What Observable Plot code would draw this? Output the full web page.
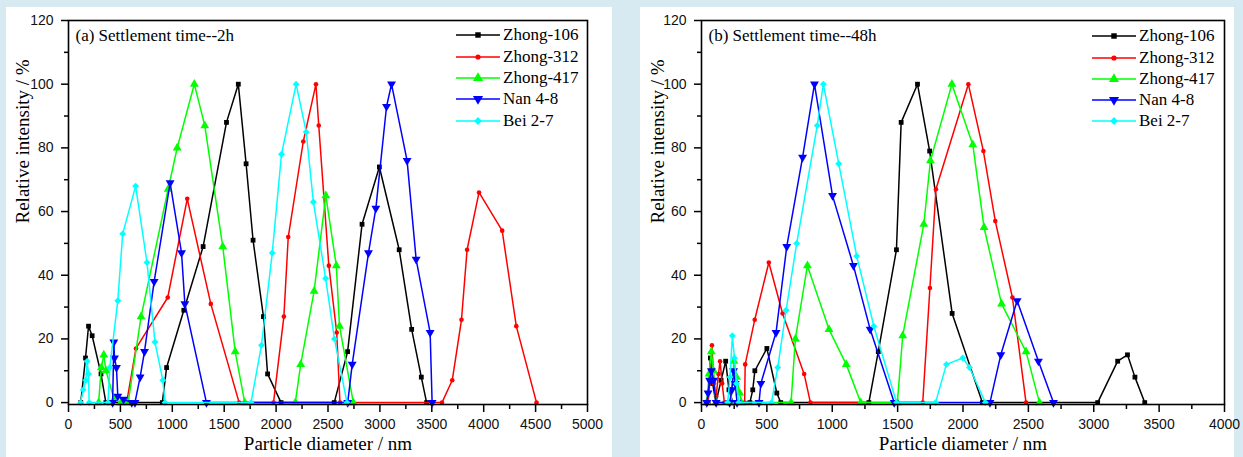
<!DOCTYPE html>
<html><head><meta charset="utf-8">
<script src="https://cdn.jsdelivr.net/npm/d3@7"></script>
<script src="https://cdn.jsdelivr.net/npm/@observablehq/plot@0.6"></script>
<style>
html,body{margin:0;padding:0;background:#d8eaf1;width:1243px;height:457px;overflow:hidden;position:relative}
.panel{position:absolute;background:#fff}
.lrow{position:absolute;height:20px;display:flex;align-items:center;font-family:"Liberation Serif","Times New Roman",serif;font-size:17px;color:#000;white-space:nowrap}
.lrow svg{display:block;margin-right:3px}
</style></head><body>
<div id="pa" class="panel" style="left:6px;top:7px;width:606px;height:450px"></div>
<div id="pb" class="panel" style="left:640px;top:7px;width:594px;height:450px"></div>
<script>
// ---------- data ----------
const seriesNames = ["Zhong-106", "Zhong-312", "Zhong-417", "Nan 4-8", "Bei 2-7"];

const panelTitles = ["(a) Settlement time--2h", "(b) Settlement time--48h"];
const xLabel = "Particle diameter / nm";
const yLabel = "Relative intensity / %";
const xTicksA = [0, 500, 1000, 1500, 2000, 2500, 3000, 3500, 4000, 4500, 5000];
const xTicksB = [0, 500, 1000, 1500, 2000, 2500, 3000, 3500, 4000];
const yTicks = [0, 20, 40, 60, 80, 100, 120];

// Panel (a): settlement time 2h  [diameter nm, relative intensity %]
const a_zhong106 = [[118,0],[164,14],[193,24],[228,21],[313,9],[360,0],[904,0],[945,11],[1111,29],[1297,49],[1522,88],[1636,100],[1711,75],[1778,51],[1878,27],[1918,9],[2048,0],[2560,0],[2689,16],[2828,56],[2995,74],[3186,48],[3306,23],[3399,8],[3450,0]];
const a_zhong312 = [[560,0],[650,17],[956,33],[1144,64],[1371,31],[1644,0],[1975,0],[2075,27],[2117,52],[2262,82],[2384,100],[2411,87],[2508,43],[2584,22],[2615,0],[3598,0],[3697,7],[3786,26],[3840,48],[3955,66],[4178,54],[4314,24],[4509,0]];
const a_zhong417 = [[290,0],[316,11],[340,15],[361,10],[440,1],[505,0],[575,0],[699,27],[960,67],[1047,80],[1212,100],[1313,87],[1486,49],[1606,16],[1698,0],[2185,0],[2237,12],[2366,35],[2479,65],[2580,43],[2611,24],[2744,0]];
const a_nan48 = [[425,0],[437,19],[443,14],[462,11],[475,2],[530,1],[610,0],[640,0],[690,8],[732,16],[825,38],[979,69],[1089,47],[1121,31],[1329,0],[2690,0],[2733,12],[2890,47],[2961,61],[3064,93],[3112,100],[3262,76],[3349,45],[3484,22],[3503,0]];
const a_bei27 = [[116,0],[141,4],[167,7],[180,13],[193,9],[199,0],[380,0],[398,11],[475,32],[522,53],[647,68],[756,44],[833,19],[909,7],[930,0],[1758,0],[1859,18],[1963,47],[2052,78],[2193,100],[2290,85],[2359,63],[2477,39],[2562,20],[2683,0]];

// Panel (b): settlement time 48h
const b_zhong106 = [[50,0],[68,14],[85,6],[110,0],[150,7],[185,13],[210,4],[240,0],[370,0],[392,4],[408,10],[500,17],[576,3],[606,0],[1280,0],[1352,16],[1491,48],[1527,88],[1652,100],[1745,79],[1917,28],[2148,0],[3030,0],[3183,13],[3258,15],[3315,8],[3390,0]];
const b_zhong312 = [[50,0],[70,9],[80,18],[95,6],[112,2],[130,9],[142,13],[158,6],[175,0],[330,0],[334,12],[407,26],[515,44],[620,28],[785,9],[833,0],[1692,0],[1747,36],[1793,67],[2041,100],[2156,79],[2247,57],[2378,33],[2482,0]];
const b_zhong417 = [[40,0],[58,9],[75,16],[92,10],[110,0],[225,0],[248,13],[268,8],[292,3],[305,0],[685,0],[718,20],[810,43],[975,23],[1107,12],[1218,0],[1498,0],[1539,21],[1700,56],[1751,76],[1915,100],[2075,81],[2161,55],[2295,31],[2482,16],[2585,0]];
const b_nan48 = [[40,0],[50,3],[62,7],[75,10],[92,7],[112,0],[215,0],[232,4],[245,10],[258,6],[272,0],[440,0],[454,6],[570,22],[652,49],[773,77],[864,100],[1002,65],[1162,43],[1290,23],[1474,0],[2206,0],[2289,15],[2414,32],[2577,13],[2692,0]];
const b_bei27 = [[200,0],[218,8],[236,21],[252,14],[268,6],[285,0],[535,0],[583,11],[647,29],[728,50],[885,87],[932,100],[1050,75],[1187,46],[1318,24],[1492,0],[1790,0],[1873,12],[1998,14],[2050,11],[2171,0]];

// ---------- styles ----------
const seriesColors = ["#000000", "#ff0000", "#00ff00", "#0000ff", "#00ffff"];
const sqrt3 = Math.sqrt(3);
const triangleDown = {draw(ctx, size) {
  const y = Math.sqrt(size / (sqrt3 * 3));
  ctx.moveTo(0, y * 2); ctx.lineTo(-sqrt3 * y, -y); ctx.lineTo(sqrt3 * y, -y); ctx.closePath();
}};
const seriesSymbols = [d3.symbolSquare, d3.symbolCircle, d3.symbolTriangle, triangleDown, d3.symbolDiamond2];
const seriesR = [2.7, 2.3, 3.3, 3.3, 3.1];
const serif = "'Liberation Serif','Times New Roman',serif";
const sans = "'Liberation Sans',Arial,sans-serif";

function makePanel(seriesData, xmax, xticks, title, geom) {
  const marks = [];
  const minor = d3.range(250, xmax, 500);
  marks.push(Plot.axisX({ticks: xticks, tickSize: 8, tickPadding: 7, label: null, stroke: "#000", strokeWidth: 1.5, fill: "#111", fontSize: 14, fontFamily: sans, tickFormat: d => String(d)}));
  marks.push(Plot.axisX({ticks: minor, tickSize: 5, label: null, stroke: "#000", strokeWidth: 1.5, tickFormat: () => ""}));
  marks.push(Plot.axisY({ticks: yTicks, tickSize: 7, tickPadding: 8, label: null, stroke: "#000", strokeWidth: 1.5, fill: "#111", fontSize: 14, fontFamily: sans}));
  marks.push(Plot.axisY({ticks: d3.range(10, 120, 20), tickSize: 4, label: null, stroke: "#000", strokeWidth: 1.5, tickFormat: () => ""}));
  seriesData.forEach((data, i) => {
    marks.push(Plot.line(data, {x: d => d[0], y: d => d[1], stroke: seriesColors[i], strokeWidth: 1.5}));
    marks.push(Plot.dot(data, {x: d => d[0], y: d => d[1], symbol: seriesSymbols[i], fill: seriesColors[i], stroke: "none", r: seriesR[i]}));
  });
  marks.push(Plot.frame({stroke: "#000", strokeWidth: 1.6}));
  marks.push(Plot.text([title], {text: d => d, frameAnchor: "top-left", dx: 7, dy: 15, textAnchor: "start", lineAnchor: "middle", fontFamily: serif, fontSize: 17, fill: "#000"}));
  marks.push(Plot.text([xLabel], {text: d => d, frameAnchor: "bottom", dy: 39, lineAnchor: "middle", fontFamily: serif, fontSize: 19, fill: "#000"}));
  marks.push(Plot.text([yLabel], {text: d => d, frameAnchor: "left", dx: geom.ylabDx, dy: 11, rotate: -90, lineAnchor: "middle", fontFamily: serif, fontSize: 19, fill: "#000"}));
  return Plot.plot({
    width: geom.width, height: 450,
    marginLeft: geom.ml, marginRight: geom.mr, marginTop: 13, marginBottom: 53,
    x: {domain: [0, xmax]},
    y: {domain: [-0.6, 120]},
    style: {background: "transparent", overflow: "visible"},
    marks
  });
}

function addLegend(lineX, rowsY) {
  seriesNames.forEach((name, i) => {
    const row = document.createElement("div");
    row.className = "lrow";
    row.style.left = lineX + "px";
    row.style.top = (rowsY[i] - 10) + "px";
    const svg = d3.create("svg").attr("width", 44).attr("height", 20);
    svg.append("line").attr("x1", 0).attr("x2", 44).attr("y1", 10).attr("y2", 10).attr("stroke", seriesColors[i]).attr("stroke-width", 1.5);
    svg.append("path").attr("transform", "translate(22,10)").attr("fill", seriesColors[i])
      .attr("d", d3.symbol(seriesSymbols[i], Math.PI * seriesR[i] * seriesR[i] * 1.3)());
    row.appendChild(svg.node());
    const span = document.createElement("span");
    span.textContent = name;
    row.appendChild(span);
    document.body.appendChild(row);
  });
}

document.getElementById("pa").appendChild(
  makePanel([a_zhong106, a_zhong312, a_zhong417, a_nan48, a_bei27], 5000, xTicksA, panelTitles[0], {width: 606, ml: 62, mr: 25, ylabDx: -46}));
document.getElementById("pb").appendChild(
  makePanel([b_zhong106, b_zhong312, b_zhong417, b_nan48, b_bei27], 4000, xTicksB, panelTitles[1], {width: 594, ml: 61, mr: 10, ylabDx: -44}));
addLegend(456, [35, 56.5, 77.5, 99, 120.5]);
addLegend(1092, [36, 57.5, 79, 100, 121]);
</script>
</body></html>
